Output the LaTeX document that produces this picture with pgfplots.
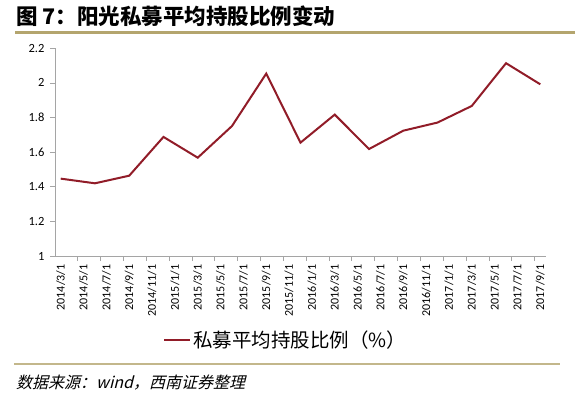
\documentclass[border=0pt]{standalone}
\usepackage{pgfplots}
\pgfplotsset{compat=1.18}
\usepackage{fontspec}
\setmainfont{Carlito}
\newfontfamily\cjk{Noto Sans CJK SC}
\newfontfamily\cjkit[FakeSlant=0.25]{Noto Sans CJK SC}
\definecolor{linered}{RGB}{145,28,40}
\definecolor{gold}{RGB}{180,165,110}
\definecolor{axgray}{RGB}{165,165,165}
\begin{document}
\begin{tikzpicture}[x=1pt,y=1pt]
\path[use as bounding box] (0,0) rectangle (575,-396);
\node[anchor=west, inner sep=0pt, font=\cjk\bfseries\fontsize{21.5}{21.5}\selectfont] at (16,-16) {图 7：阳光私募平均持股比例变动};
\draw[gold, line width=3pt] (15,-33) -- (575,-33);
\draw[gold!80, line width=1.2pt] (14,-364) -- (560,-364);
\node[anchor=west, inner sep=0pt, font=\cjkit\fontsize{16}{16}\selectfont] at (16,-383) {数据来源：wind，西南证券整理};
\begin{axis}[
  at={(55pt,-256pt)}, anchor=south west,
  scale only axis, width=491pt, height=207.7pt,
  xmin=-0.5, xmax=42.5, ymin=1, ymax=2.2,
  axis lines=left, axis line style={axgray, -},
  tick align=outside,
  xtick={0,2,...,42},
  xticklabels={2014/3/1,2014/5/1,2014/7/1,2014/9/1,2014/11/1,2015/1/1,2015/3/1,2015/5/1,2015/7/1,2015/9/1,2015/11/1,2016/1/1,2016/3/1,2016/5/1,2016/7/1,2016/9/1,2016/11/1,2017/1/1,2017/3/1,2017/5/1,2017/7/1,2017/9/1},
  minor xtick={1.5,3.5,...,41.5},
  major x tick style={draw=none},
  minor tick length=5pt, major tick length=5pt,
  tick style={axgray, line width=0.8pt},
  ytick={1,1.2,1.4,1.6,1.8,2,2.2},
  yticklabels={1,1.2,1.4,1.6,1.8,2,2.2},
  xticklabel style={rotate=90, anchor=east, font=\fontsize{12}{12}\selectfont},
  yticklabel style={font=\fontsize{12.5}{12.5}\selectfont, xshift=-2pt},
  /pgf/number format/assume math mode=true,
  legend style={at={(0.47,-0.404)}, anchor=center, draw=none, fill=none,
    font=\cjk\fontsize{19.5}{19.5}\selectfont,
    /tikz/every even column/.append style={column sep=0pt}},
  legend image code/.code={\draw[#1] (0pt,0pt) -- (26pt,0pt);},
]
\addplot[linered, line width=2pt] coordinates {
(0,1.447) (3,1.420) (6,1.464) (9,1.688) (12,1.568) (15,1.751) (18,2.054)
(21,1.655) (24,1.817) (27,1.618) (30,1.724) (33,1.771) (36,1.867) (39,2.114) (42,1.992)
};
\addlegendentry{私募平均持股比例（\%）}
\end{axis}
\end{tikzpicture}
\end{document}
